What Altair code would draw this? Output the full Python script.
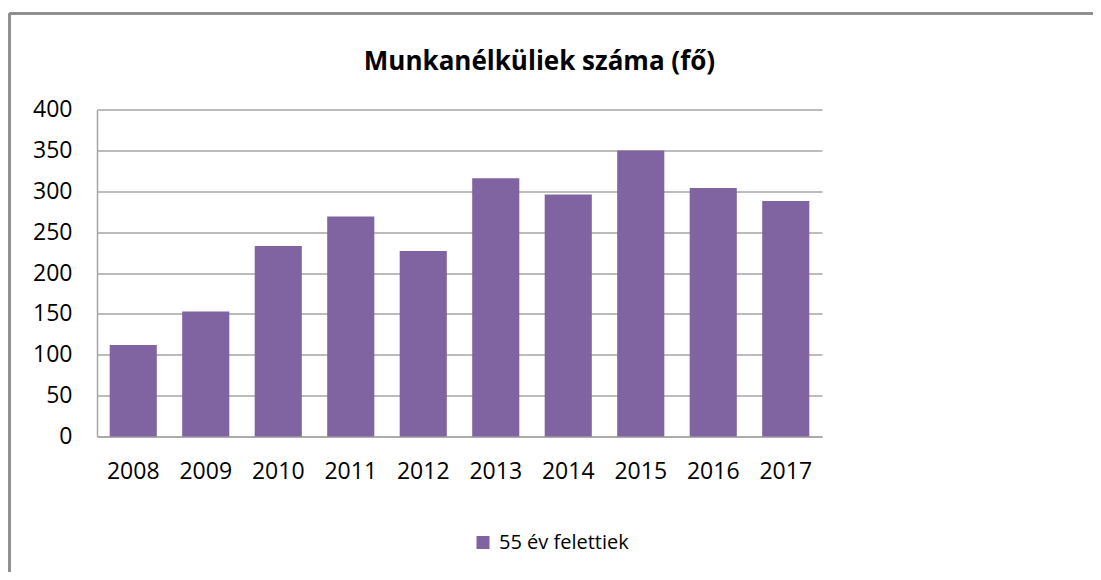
import altair as alt
import pandas as pd

years = ["2008", "2009", "2010", "2011", "2012", "2013", "2014", "2015", "2016", "2017"]
values = [112, 153, 233, 269, 227, 316, 296, 350, 304, 288]
series = ["55 év felettiek"] * len(years)
y_ticks = [0, 50, 100, 150, 200, 250, 300, 350, 400]

df = pd.DataFrame({"ev": years, "fo": values, "sorozat": series})

FONT = "Open Sans"
GRID = "#A6A6A6"

bars = alt.Chart(df).mark_bar(color="#8064A2").encode(
    x=alt.X(
        "ev:N",
        sort=years,
        title=None,
        scale=alt.Scale(paddingInner=0.35, paddingOuter=0.175),
        axis=alt.Axis(
            labelAngle=0, labelFont=FONT, labelFontSize=23, labelColor="#000000",
            labelPadding=24, ticks=False, domainColor=GRID, domainWidth=1.5, grid=False,
        ),
    ),
    y=alt.Y(
        "fo:Q",
        title=None,
        scale=alt.Scale(domain=[0, 400], nice=False),
        axis=alt.Axis(
            values=y_ticks, labelFont=FONT, labelFontSize=23, labelColor="#000000",
            labelPadding=25, ticks=False, domainColor=GRID, domainWidth=1.5,
            gridColor=GRID, gridWidth=1.5,
        ),
    ),
    color=alt.Color(
        "sorozat:N",
        scale=alt.Scale(range=["#8064A2"]),
        legend=alt.Legend(
            title=None, orient="none", legendX=376, legendY=423,
            symbolType="square", symbolSize=169, symbolStrokeWidth=0,
            labelFont=FONT, labelFontSize=20, labelColor="#000000", labelOffset=6,
        ),
    ),
)

frame_top = alt.Chart(df).mark_rule(color="#8C8C8C", strokeWidth=1.5).encode(
    x=alt.value(-87.5), x2=alt.value(1100), y=alt.value(-96)
)
frame_left = alt.Chart(df).mark_rule(color="#8C8C8C", strokeWidth=1.5).encode(
    x=alt.value(-87.5), y=alt.value(-96), y2=alt.value(600)
)

chart = alt.layer(bars, frame_top, frame_left).properties(
    width=725,
    height=327,
    autosize=alt.AutoSizeParams(type="none"),
    padding={"left": 89, "top": 101.5, "right": 271, "bottom": 135.5},
    title=alt.TitleParams(
        "Munkanélküliek száma (fő)", font=FONT, fontSize=26, fontWeight="bold",
        color="#000000", anchor="middle", dx=80, offset=-62,
    ),
).configure_view(stroke=None)

chart.save("out.html", embed_options={"renderer": "svg", "actions": False})
